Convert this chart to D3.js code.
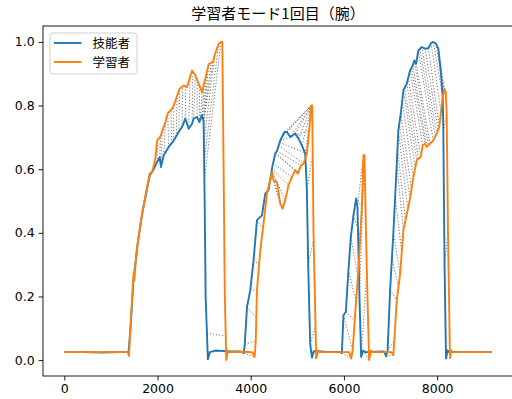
<!DOCTYPE html>
<html>
<head>
<meta charset="utf-8">
<script src="https://cdn.jsdelivr.net/npm/d3@7"></script>
<style>
  body { margin: 0; background: #fff; }
  svg { display: block; }
  .tick text { font-family: "DejaVu Sans", sans-serif; font-size: 12.5px; fill: #000; }
  .jp { font-family: "Noto Sans CJK JP", sans-serif; }
</style>
</head>
<body>
<div id="chart"></div>
<script>
// 技能者 (blue)
var blueX = [0, 400, 800, 1200, 1354, 1376, 1419, 1483, 1569, 1669, 1777, 1832, 1918, 1991, 2047, 2072, 2132, 2239,
    2347, 2454, 2527, 2597, 2668, 2741, 2775, 2848, 2897, 2955, 2989, 3011, 3032, 3080, 3122, 3240, 3500, 3776,
    3851, 3872, 3920, 3990, 4061, 4134, 4241, 4312, 4382, 4455, 4526, 4562, 4633, 4725, 4777, 4848, 4955, 5025,
    5098, 5169, 5205, 5233, 5276, 5313, 5351, 5600, 5919, 5955, 5990, 6041, 6097, 6148, 6204, 6262, 6290, 6333,
    6369, 6412, 6455, 6700, 6862, 6905, 6937, 6991, 7061, 7134, 7168, 7220, 7276, 7349, 7419, 7477, 7511, 7548,
    7597, 7670, 7741, 7812, 7869, 7918, 7976, 8025, 8077, 8120, 8133, 8159, 8191, 8223, 8255, 8600, 9170];
var blueY = [0.025, 0.025, 0.024, 0.025, 0.025, 0.022, 0.1, 0.25, 0.36, 0.46, 0.54, 0.58, 0.6, 0.623, 0.638, 0.607, 0.644, 0.67,
    0.69, 0.717, 0.733, 0.759, 0.727, 0.743, 0.759, 0.764, 0.748, 0.77, 0.75, 0.5, 0.2, 0.003, 0.025, 0.03, 0.028, 0.027,
    0.022, 0.05, 0.167, 0.22, 0.314, 0.44, 0.455, 0.523, 0.534, 0.602, 0.649, 0.657, 0.69, 0.717, 0.717, 0.701, 0.712, 0.696,
    0.675, 0.649, 0.534, 0.3, 0.05, 0.008, 0.028, 0.026, 0.025, 0.022, 0.141, 0.152, 0.283, 0.387, 0.455, 0.508, 0.481, 0.2,
    0.01, 0.03, 0.025, 0.026, 0.027, 0.012, 0.03, 0.22, 0.4, 0.617, 0.722, 0.775, 0.848, 0.869, 0.91, 0.926, 0.942, 0.932,
    0.973, 0.984, 0.979, 0.98, 0.996, 1.0, 0.994, 0.979, 0.91, 0.827, 0.72, 0.3, 0.005, 0.03, 0.025, 0.025, 0.025];

// 学習者 (orange)
var orangeX = [0, 400, 800, 1200, 1365, 1387, 1419, 1472, 1489, 1504, 1526, 1562, 1669, 1777, 1832, 1884, 1954, 1991, 2062,
    2169, 2218, 2312, 2347, 2475, 2561, 2634, 2741, 2812, 2882, 2955, 3026, 3097, 3191, 3225, 3311, 3362, 3390, 3418,
    3444, 3476, 3508, 3540, 3800, 4033, 4083, 4108, 4134, 4205, 4275, 4348, 4455, 4490, 4562, 4633, 4683, 4740, 4811,
    4884, 4955, 5013, 5077, 5133, 5205, 5255, 5298, 5319, 5347, 5405, 5448, 5490, 5800, 6112, 6155, 6187, 6241, 6311,
    6384, 6418, 6440, 6491, 6540, 6583, 6626, 6800, 7012, 7061, 7134, 7205, 7276, 7419, 7490, 7563, 7597, 7648, 7691,
    7741, 7777, 7848, 7918, 7991, 8047, 8083, 8120, 8154, 8184, 8205, 8233, 8276, 8308, 8340, 8700, 9170];
var orangeY = [0.025, 0.025, 0.025, 0.025, 0.025, 0.013, 0.1, 0.24, 0.275, 0.25, 0.3, 0.356, 0.46, 0.544, 0.587, 0.59, 0.634, 0.69, 0.703,
    0.748, 0.775, 0.79, 0.8, 0.853, 0.863, 0.858, 0.91, 0.895, 0.869, 0.842, 0.885, 0.93, 0.937, 0.958, 0.994, 1.0, 1.0, 0.6,
    0.2, 0.0, 0.03, 0.025, 0.026, 0.025, 0.01, 0.06, 0.22, 0.345, 0.43, 0.523, 0.591, 0.565, 0.56, 0.492, 0.476, 0.502, 0.55,
    0.575, 0.597, 0.586, 0.612, 0.617, 0.649, 0.722, 0.8, 0.8, 0.4, 0.006, 0.03, 0.025, 0.025, 0.025, 0.005, 0.03, 0.147, 0.283,
    0.481, 0.644, 0.644, 0.28, 0.0, 0.03, 0.025, 0.025, 0.025, 0.016, 0.188, 0.27, 0.408, 0.508, 0.575, 0.628, 0.633, 0.638, 0.675,
    0.68, 0.67, 0.68, 0.69, 0.712, 0.733, 0.78, 0.827, 0.853, 0.843, 0.775, 0.4, 0.006, 0.03, 0.025, 0.025, 0.025];

// DTW alignment: position on 技能者 -> position on 学習者
var linkBlue = [0, 500, 1000, 1354, 1419, 1483, 1569, 1669, 1777, 1832, 1918, 1991, 2047, 2072, 2132, 2239, 2300, 2347,
    2400, 2454, 2527, 2597, 2668, 2741, 2775, 2848, 2897, 2920, 2955, 2970, 2989, 2989, 2989, 2995, 3000, 3005,
    3060, 3122, 3500, 3851, 3872, 3920, 3990, 4061, 4134, 4241, 4312, 4382, 4400, 4420, 4430, 4440, 4440, 4450,
    4455, 4480, 4526, 4540, 4562, 4600, 4620, 4633, 4680, 4725, 4777, 4848, 4955, 5025, 5098, 5169, 5205, 5233, 5276,
    5313, 5600, 5919, 5955, 5990, 6041, 6097, 6148, 6204, 6262, 6290, 6333, 6369, 6412, 6700, 6862, 6905, 6937, 6991,
    7030, 7061, 7100, 7134, 7150, 7168, 7190, 7220, 7250, 7276, 7300, 7349, 7380, 7419, 7450, 7477, 7511, 7548, 7597,
    7630, 7670, 7741, 7812, 7869, 7918, 7976, 8025, 8077, 8120, 8133, 8159, 8191, 8223, 8255, 8600, 9170];
var linkOrange = [0, 500, 1000, 1365, 1419, 1489, 1562, 1669, 1777, 1832, 1954, 2000, 2062, 2100, 2169, 2218, 2290, 2347,
    2420, 2475, 2540, 2600, 2700, 2760, 2812, 2850, 2900, 2955, 3000, 3060, 3097, 3150, 3191, 3225, 3311, 3362,
    3464, 3508, 3800, 4083, 4108, 4120, 4134, 4180, 4260, 4300, 4348, 4400, 4455, 4490, 4562, 4633, 4683, 4740,
    4811, 4884, 4955, 5013, 5077, 5133, 5205, 5255, 5298, 5298, 5298, 5305, 5310, 5315, 5319, 5319, 5330, 5350, 5390,
    5405, 5800, 6112, 6155, 6187, 6230, 6260, 6300, 6350, 6384, 6418, 6440, 6491, 6540, 6800, 7012, 7061, 7080, 7134,
    7170, 7205, 7240, 7276, 7320, 7370, 7419, 7450, 7490, 7530, 7563, 7597, 7648, 7691, 7741, 7777, 7812, 7848, 7918,
    7960, 7991, 8020, 8047, 8083, 8120, 8140, 8154, 8154, 8175, 8205, 8233, 8276, 8308, 8340, 8700, 9170];

var xTicks = [0, 2000, 4000, 6000, 8000];
var yTicks = [0.0, 0.2, 0.4, 0.6, 0.8, 1.0];
var seriesNames = ["技能者", "学習者"];
var title = "学習者モード1回目（腕）";

var width = 512, height = 399;
var plotLeft = 43, plotRight = 513, plotTop = 26, plotBottom = 376;

var svg = d3.select("#chart").append("svg").attr("width", width).attr("height", height);

var x = d3.scaleLinear().domain([-458, 9628]).range([plotLeft, plotRight]);
var y = d3.scaleLinear().domain([-0.05, 1.05]).range([plotBottom, plotTop]);

var blue = blueX.map(function (d, i) { return [d, blueY[i]]; });
var orange = orangeX.map(function (d, i) { return [d, orangeY[i]]; });

// value on a drawn series at a given position
function valueAt(xs, ys, v) {
    var i = d3.bisectLeft(xs, v);
    if (i <= 0) return ys[0];
    if (i >= xs.length) return ys[ys.length - 1];
    var t = (v - xs[i - 1]) / (xs[i] - xs[i - 1]);
    return ys[i - 1] + t * (ys[i] - ys[i - 1]);
}

// alignment lines
svg.append("g").selectAll("line")
    .data(linkBlue)
    .enter()
    .append("line")
    .attr("x1", function (d) { return x(d); })
    .attr("y1", function (d) { return y(valueAt(blueX, blueY, d)); })
    .attr("x2", function (d, i) { return x(linkOrange[i]); })
    .attr("y2", function (d, i) { return y(valueAt(orangeX, orangeY, linkOrange[i])); })
    .attr("stroke", "#666")
    .attr("stroke-opacity", 0.9)
    .attr("stroke-width", 1)
    .attr("stroke-dasharray", "1.2,1.9");

var line = d3.line().x(function (d) { return x(d[0]); }).y(function (d) { return y(d[1]); });

svg.append("path").datum(blue)
    .attr("d", line).attr("fill", "none")
    .attr("stroke", "#1f77b4").attr("stroke-width", 1.9).attr("stroke-linejoin", "round");
svg.append("path").datum(orange)
    .attr("d", line).attr("fill", "none")
    .attr("stroke", "#ff7f0e").attr("stroke-width", 1.9).attr("stroke-linejoin", "round");

// axes
var xAxis = svg.append("g").attr("transform", "translate(0," + plotBottom + ")")
    .call(d3.axisBottom(x).tickValues(xTicks).tickSize(4.4).tickPadding(4).tickFormat(d3.format("d")));
var yAxis = svg.append("g").attr("transform", "translate(" + plotLeft + ",0)")
    .call(d3.axisLeft(y).tickValues(yTicks).tickSize(4.4).tickPadding(4).tickFormat(d3.format(".1f")));
xAxis.select(".domain").remove();
yAxis.select(".domain").remove();
svg.selectAll(".tick line").attr("stroke", "#000").attr("stroke-width", 0.9);

// frame
svg.append("rect")
    .attr("x", plotLeft).attr("y", plotTop)
    .attr("width", plotRight - plotLeft).attr("height", plotBottom - plotTop)
    .attr("fill", "none").attr("stroke", "#000").attr("stroke-width", 0.9);

svg.append("text")
    .attr("class", "jp")
    .attr("x", (plotLeft + plotRight) / 2).attr("y", 19)
    .attr("text-anchor", "middle")
    .attr("font-size", 15)
    .text(title);

// legend
var legend = svg.append("g").attr("transform", "translate(50,33)");
legend.append("rect")
    .attr("width", 87).attr("height", 41).attr("rx", 3)
    .attr("fill", "#fff").attr("fill-opacity", 0.8)
    .attr("stroke", "#ccc").attr("stroke-width", 0.9);
var colors = ["#1f77b4", "#ff7f0e"];
seriesNames.forEach(function (name, i) {
    var row = legend.append("g").attr("transform", "translate(0," + (10 + i * 19) + ")");
    row.append("line").attr("x1", 4).attr("x2", 31.5)
        .attr("stroke", colors[i]).attr("stroke-width", 1.9);
    row.append("text").attr("class", "jp")
        .attr("x", 42.5).attr("y", 4.5)
        .attr("font-size", 12.5)
        .text(name);
});
</script>
</body>
</html>
